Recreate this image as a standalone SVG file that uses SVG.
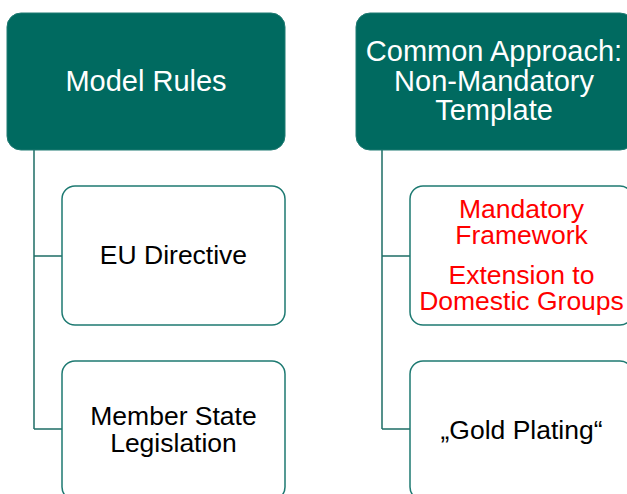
<svg xmlns="http://www.w3.org/2000/svg" width="627" height="494" viewBox="0 0 627 494">
  <style>
    .head { fill: #006A60; stroke: #1F7A72; stroke-width: 1; }
    .child { fill: #FFFFFF; stroke: #1E7A72; stroke-width: 1.5; }
    .link { fill: none; stroke: #1E6E66; stroke-width: 1.5; }
    .ht { font-family: "Liberation Sans", Arial, sans-serif; font-size: 29px; fill: #FFFFFF; text-anchor: middle; }
    .ct { font-family: "Liberation Sans", Arial, sans-serif; font-size: 26.5px; fill: #000000; text-anchor: middle; }
    .red { fill: #FF0000; }
  </style>
  <rect width="627" height="494" fill="#FFFFFF"/>

  <!-- tree connectors -->
  <g id="connectors">
    <path class="link" d="M34,150 V429 M34,256 H62 M34,429 H62"/>
    <path class="link" d="M382,150 V429 M382,256 H410 M382,429 H410"/>
  </g>

  <!-- left column -->
  <g id="model-rules">
    <rect class="head" x="7" y="13" width="278" height="137" rx="14"/>
    <text class="ht" x="146" y="91">Model Rules</text>
  </g>
  <g id="eu-directive">
    <rect class="child" x="62" y="186" width="223" height="139" rx="13"/>
    <text class="ct" x="173.5" y="264">EU Directive</text>
  </g>
  <g id="member-state-legislation">
    <rect class="child" x="62" y="361" width="223" height="139" rx="13"/>
    <text class="ct" x="173.5" y="425">Member State</text>
    <text class="ct" x="173.5" y="452">Legislation</text>
  </g>

  <!-- right column -->
  <g id="common-approach">
    <rect class="head" x="356" y="13" width="278" height="137" rx="14"/>
    <text class="ht" x="494" y="61">Common Approach:</text>
    <text class="ht" x="494" y="90.5">Non-Mandatory</text>
    <text class="ht" x="494" y="120">Template</text>
  </g>
  <g id="mandatory-framework">
    <rect class="child" x="410" y="186" width="223" height="139" rx="13"/>
    <text class="ct red" x="521.5" y="218">Mandatory</text>
    <text class="ct red" x="521.5" y="244">Framework</text>
    <text class="ct red" x="521.5" y="283.5">Extension to</text>
    <text class="ct red" x="521.5" y="309.5">Domestic Groups</text>
  </g>
  <g id="gold-plating">
    <rect class="child" x="410" y="361" width="223" height="139" rx="13"/>
    <text class="ct" x="521.5" y="438.5">„Gold Plating“</text>
  </g>
</svg>
